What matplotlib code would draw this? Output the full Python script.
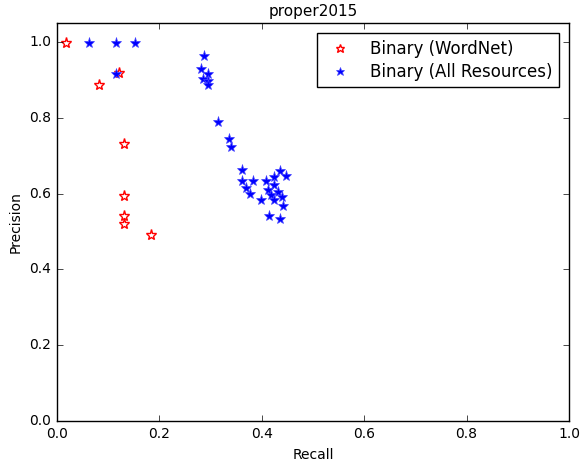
import numpy as np
import matplotlib
matplotlib.use('Agg')
import matplotlib.pyplot as plt

plt.style.use('classic')

# Binary (WordNet) points
wn_recall = [0.018, 0.083, 0.122, 0.131, 0.131, 0.131, 0.131, 0.183]
wn_prec = [0.998, 0.887, 0.918, 0.732, 0.594, 0.542, 0.521, 0.492]

# Binary (All Resources) points
all_recall = [0.062, 0.115, 0.152, 0.115,
              0.287, 0.281, 0.294, 0.286, 0.294, 0.294,
              0.315, 0.336, 0.340,
              0.362, 0.362, 0.382, 0.370, 0.377, 0.398,
              0.409, 0.423, 0.436, 0.447, 0.424, 0.413, 0.418,
              0.432, 0.440, 0.423, 0.441, 0.415, 0.436]
all_prec = [0.998, 0.998, 0.998, 0.915,
            0.962, 0.928, 0.915, 0.903, 0.897, 0.886,
            0.788, 0.743, 0.722,
            0.662, 0.632, 0.632, 0.614, 0.599, 0.583,
            0.632, 0.643, 0.659, 0.647, 0.623, 0.610, 0.596,
            0.603, 0.590, 0.582, 0.567, 0.540, 0.533]

fig = plt.figure(figsize=(5.87, 4.61), dpi=100, facecolor='white')
ax = fig.add_axes([57/587, 40/461, 512/587, 398/461])
ax.set_facecolor('white')

ax.plot(wn_recall, wn_prec, '*', color='red', markerfacecolor='white',
        markeredgecolor='red', markersize=8, markeredgewidth=1,
        label='Binary (WordNet)')
ax.plot(all_recall, all_prec, '*', color='blue', markerfacecolor='blue',
        markeredgecolor='#4040ff', markersize=8, markeredgewidth=0.5,
        label='Binary (All Resources)')

ax.set_xlim(0, 1.0)
ax.set_ylim(0, 1.05)
ax.set_xticks(np.arange(0, 1.01, 0.2))
ax.set_yticks(np.arange(0, 1.01, 0.2))
ax.tick_params(labelsize=10)
ax.set_xlabel('Recall', fontsize=10)
ax.set_ylabel('Precision', fontsize=10)
ax.set_title('proper2015', fontsize=11)

ax.legend(loc='upper right', numpoints=1, fontsize=12, markerscale=0.8,
          borderaxespad=0.6, labelspacing=0.3, borderpad=0.4)

fig.savefig('out.png', dpi=100, facecolor='white')
